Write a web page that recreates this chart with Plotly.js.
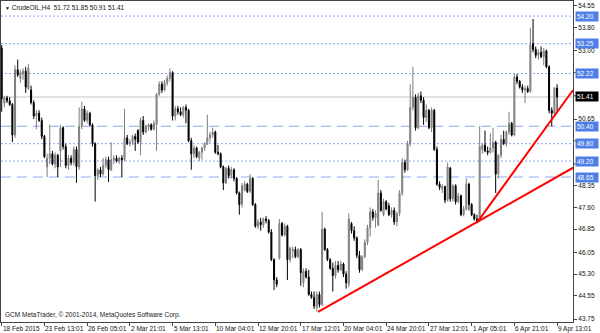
<!DOCTYPE html>
<html>
<head>
<meta charset="utf-8">
<script src="https://cdn.plot.ly/plotly-3.0.1.min.js"></script>
<style>
  html, body { margin: 0; padding: 0; background: #fff; }
  #chart { width: 600px; height: 333px; }
</style>
</head>
<body>
<div id="chart"></div>
<script>
// ---- data (CrudeOIL, H4 candles) ----
const symbolName = "CrudeOIL,H4";
const copyrightText = "GCM MetaTrader, © 2001-2014, MetaQuotes Software Corp.";

const openP = [
53.10,51.20,51.38,51.28,51.15,50.10,52.35,52.05,52.20,52.30,51.70,51.65,51.22,50.75,50.85,50.60,50.05,49.00,49.30,49.45,
49.10,49.40,49.55,50.35,49.70,49.05,49.30,49.15,49.60,49.00,50.40,51.00,50.60,50.85,50.45,49.80,48.70,48.90,48.75,49.05,
49.25,48.90,49.25,49.30,49.20,49.30,49.25,50.00,49.80,49.85,50.05,50.25,49.85,50.60,50.20,50.40,50.45,50.30,50.45,51.50,
51.85,51.65,51.90,52.05,52.25,50.75,51.00,50.90,50.80,51.05,50.95,49.90,49.45,49.65,49.30,49.50,49.65,49.80,50.00,50.10,
50.20,49.50,49.45,49.00,48.45,48.95,48.70,48.90,48.60,48.10,47.70,48.20,48.40,48.15,48.60,47.70,46.95,47.10,47.00,47.20,
47.15,46.75,45.80,45.10,45.85,47.05,46.65,46.95,45.80,46.10,46.15,45.90,46.15,45.00,45.40,45.20,44.60,44.50,44.15,44.60,
44.25,46.85,46.15,45.80,45.50,45.25,45.60,45.45,45.65,45.30,44.95,47.05,46.80,46.55,45.95,45.45,45.90,46.40,46.90,47.45,
47.25,47.00,48.10,47.35,47.80,47.65,47.35,47.50,47.10,47.40,48.10,49.15,48.90,49.80,51.05,51.40,50.35,51.45,51.30,50.70,
50.95,50.35,50.95,49.60,48.40,48.25,48.32,47.85,48.95,47.90,48.35,47.80,48.00,47.35,47.55,48.40,47.70,47.35,47.20,47.15,
49.60,49.75,49.55,49.50,49.65,49.85,48.75,49.40,49.95,49.80,50.20,50.50,50.10,52.10,51.95,51.75,51.65,51.70,51.60,53.25,
53.05,52.85,52.95,52.80,53.00,52.45,50.95,50.85,51.72];
const highP = [
53.20,51.45,51.45,51.40,51.20,52.50,52.70,52.35,52.40,52.45,52.55,51.80,51.30,50.95,50.95,50.70,50.10,49.45,50.45,49.55,
49.50,49.45,50.45,50.40,49.80,49.40,49.40,49.70,49.70,51.05,51.25,51.10,50.95,50.90,50.50,49.85,48.95,49.00,49.30,49.35,
49.35,49.85,49.40,49.40,49.35,49.40,51.00,50.10,49.95,50.10,50.15,50.30,50.70,50.75,50.45,50.50,50.50,50.60,51.55,51.95,
51.95,52.00,52.15,52.40,52.30,51.10,51.10,51.05,51.10,51.15,51.00,50.00,49.75,49.70,49.55,49.70,49.85,50.80,50.20,50.35,
50.25,49.75,49.50,49.05,49.00,49.05,49.00,48.95,48.65,48.15,48.45,48.50,48.45,48.75,48.65,47.75,47.20,47.25,47.25,47.30,
47.20,46.85,45.85,45.20,47.20,47.10,47.05,47.00,46.25,46.25,46.25,46.20,46.20,45.50,45.50,45.45,44.70,44.70,44.70,44.70,
47.45,46.90,46.20,45.85,45.70,45.75,45.75,45.75,45.70,45.40,47.40,47.10,46.95,46.60,46.10,45.95,46.50,47.00,47.60,47.55,
47.50,48.55,48.20,47.90,47.85,47.75,47.60,47.60,47.45,48.20,49.30,49.25,49.90,51.85,52.45,51.50,51.55,51.60,51.40,51.15,
51.00,51.05,51.00,49.70,48.50,48.40,48.35,49.15,49.00,48.40,48.40,48.10,48.05,47.65,48.60,48.45,47.75,47.40,47.35,50.40,
49.80,50.25,49.70,50.15,50.35,49.90,49.45,50.10,50.25,50.25,50.90,50.55,52.20,52.20,52.00,51.85,51.80,51.80,53.80,54.10,
53.15,53.05,53.15,53.10,53.05,52.50,51.05,51.75,51.85];
const lowP = [
50.90,51.05,51.20,51.10,49.85,50.00,52.10,51.90,52.00,51.55,51.65,51.15,50.65,50.30,50.55,49.95,49.30,48.65,49.10,49.05,
48.95,48.65,49.00,49.60,48.95,48.90,49.05,49.05,48.45,48.90,50.30,50.55,50.50,50.40,49.70,47.80,48.55,48.65,48.70,48.95,
48.48,48.85,49.10,49.15,49.10,48.65,49.20,49.75,49.70,49.75,49.55,49.80,49.40,50.10,50.15,50.25,50.25,50.25,49.55,51.45,
51.55,51.60,51.80,51.95,50.60,50.60,50.80,50.75,50.70,50.50,49.85,48.90,49.30,49.30,49.20,49.25,49.55,49.75,49.85,50.00,
49.45,49.40,48.95,48.20,48.40,48.60,48.60,48.50,48.05,47.35,47.60,48.15,48.10,48.10,47.65,46.90,46.85,46.80,46.90,47.05,
46.70,45.75,44.75,44.85,45.80,46.60,46.60,45.10,45.70,45.85,45.85,45.85,44.90,44.85,45.15,44.55,44.45,44.10,44.00,44.15,
44.20,46.10,45.75,45.45,44.70,45.15,45.35,45.40,45.20,44.80,44.85,46.70,46.45,45.85,45.35,45.40,45.85,46.30,46.60,47.15,
46.90,46.95,47.45,47.30,47.50,47.30,47.25,47.00,46.95,47.30,48.00,48.80,48.85,49.70,50.95,50.25,50.30,51.20,50.45,50.55,
50.30,50.20,49.55,48.35,48.20,48.10,47.75,47.80,47.80,47.80,47.70,47.75,47.30,47.30,47.50,47.50,47.30,47.15,47.06,47.10,
49.45,49.50,49.40,49.45,49.50,48.10,48.60,49.30,49.75,49.70,50.10,50.05,50.05,51.85,51.70,51.55,51.20,51.55,51.55,52.95,
52.75,52.70,52.75,52.50,52.40,50.85,50.40,50.80,50.91];
const closeP = [
51.35,51.38,51.28,51.15,50.10,52.35,52.17,52.25,52.30,51.75,52.40,51.22,50.75,50.85,50.60,50.05,49.35,49.30,49.45,49.10,
49.40,49.00,50.35,49.70,49.05,49.30,49.15,49.60,49.00,50.40,51.00,50.60,50.85,50.45,49.80,48.70,48.90,48.75,49.05,49.25,
48.90,49.25,49.30,49.20,49.30,49.25,50.00,49.80,49.85,50.05,49.95,49.85,50.60,50.20,50.40,50.45,50.30,50.50,51.50,51.85,
51.65,51.90,52.05,52.25,50.75,51.00,50.90,50.80,51.05,50.95,49.90,49.45,49.65,49.35,49.50,49.65,49.80,50.00,50.10,50.20,
49.50,49.45,49.00,48.45,48.95,48.70,48.90,48.60,48.10,47.70,48.35,48.40,48.15,48.60,47.70,46.95,47.10,47.00,47.20,47.15,
46.75,45.80,45.10,44.95,47.05,46.65,46.95,45.80,46.20,46.15,45.90,46.15,45.35,45.40,45.20,44.60,44.50,44.20,44.60,44.25,
46.85,46.15,45.80,45.50,45.25,45.60,45.45,45.65,45.30,45.00,47.20,46.80,46.55,45.95,45.45,45.90,46.40,46.90,47.45,47.25,
47.40,48.10,47.50,47.80,47.55,47.35,47.50,47.10,47.40,48.10,49.15,48.90,49.80,51.05,51.40,50.35,51.45,51.30,50.70,50.95,
50.35,50.95,49.60,48.40,48.30,48.32,47.85,49.00,47.90,48.35,47.80,48.00,47.35,47.55,48.40,47.70,47.35,47.20,47.15,49.70,
49.75,49.55,49.50,49.65,49.85,48.75,49.40,49.95,49.80,50.20,50.50,50.10,52.10,51.95,51.75,51.65,51.70,51.60,53.20,53.05,
52.85,52.95,52.80,53.00,52.45,50.95,50.85,51.72,51.41];

// time-axis labels (every 16th H4 bar)
const timeLabels = ["18 Feb 2015","23 Feb 13:01","26 Feb 05:01","2 Mar 21:01","5 Mar 13:01","10 Mar 04:01",
  "12 Mar 20:01","17 Mar 12:01","20 Mar 04:01","24 Mar 20:01","27 Mar 12:01","1 Apr 05:01","6 Apr 21:01","9 Apr 13:01"];
const timeLabelBars = [0,16,32,48,64,80,96,112,128,144,160,176,192,208];

// price scale ticks (labels) and the tick marks hidden under level boxes
const priceTicks = [54.55,53.80,53.00,50.65,48.35,47.60,46.85,46.05,45.30,44.55,43.75];
const hiddenPriceTicks = [52.25,51.45,49.90,49.10];

// horizontal levels
const dottedLevels = [54.20,53.25,52.22,49.80,49.20];
const dashedLevels = [50.40,48.65];
const currentPrice = 51.41;

// trend lines (bar index, price)
const supportLineBars = [118.5, 214.0];
const supportLinePrice = [44.00, 48.97];
const steepLineBars = [178.0, 214.0];
const steepLinePrice = [47.08, 51.65];

// ---- build chart ----
const barIdx = closeP.map((_, i) => i);
const FONT = "Liberation Sans, Arial, sans-serif";
const dotColor = "#88a5f3";
const dashColor = "#8ea9f0";
const boxColor = "#4f7ee6";

const traces = [
  {
    type: "candlestick",
    x: barIdx, open: openP, high: highP, low: lowP, close: closeP,
    increasing: { line: { color: "#7c7c7c", width: 1 }, fillcolor: "#a9a9a9" },
    decreasing: { line: { color: "#000000", width: 1 }, fillcolor: "#000000" },
    whiskerwidth: 0,
    hoverinfo: "skip",
    showlegend: false
  },
  {
    type: "scatter", mode: "lines",
    x: supportLineBars, y: supportLinePrice,
    line: { color: "#ff0000", width: 2 }, hoverinfo: "skip", showlegend: false
  },
  {
    type: "scatter", mode: "lines",
    x: steepLineBars, y: steepLinePrice,
    line: { color: "#ff0000", width: 2 }, hoverinfo: "skip", showlegend: false
  }
];

const shapes = [];
dottedLevels.forEach(v => shapes.push({
  type: "line", xref: "paper", x0: 0, x1: 1, yref: "y", y0: v, y1: v,
  line: { color: dotColor, width: 1, dash: "2px,2px" }, layer: "below"
}));
dashedLevels.forEach(v => shapes.push({
  type: "line", xref: "paper", x0: 0, x1: 1, yref: "y", y0: v, y1: v,
  line: { color: dashColor, width: 1.2, dash: "10px,6px" }, layer: "below"
}));
shapes.push({
  type: "line", xref: "paper", x0: 0, x1: 1, yref: "y", y0: currentPrice, y1: currentPrice,
  line: { color: "#c6c6c6", width: 1 }, layer: "below"
});
// tick marks under the level boxes (MetaTrader still draws them)
hiddenPriceTicks.forEach(v => shapes.push({
  type: "line", xref: "paper", x0: 1, x1: 1.005, yref: "y", y0: v, y1: v,
  line: { color: "#444", width: 1 }
}));

const annotations = [];
// header
const last = closeP.length - 1;
annotations.push({
  xref: "paper", yref: "paper", x: 0, y: 1, xanchor: "left", yanchor: "top",
  xshift: 2, yshift: -1, showarrow: false,
  text: '<span style="font-size:5px">▼</span> ' + symbolName + "  " +
        [openP[last], highP[last], lowP[last], closeP[last]].map(v => v.toFixed(2)).join(" "),
  font: { family: FONT, size: 6.5, color: "#111" }
});
// copyright
annotations.push({
  xref: "paper", yref: "paper", x: 0, y: 0, xanchor: "left", yanchor: "bottom",
  xshift: 2, yshift: 1, showarrow: false, text: copyrightText,
  font: { family: FONT, size: 6.5, color: "#222" }
});
// time labels (left-aligned at their tick)
timeLabels.forEach((t, k) => annotations.push({
  xref: "x", yref: "paper", x: timeLabelBars[k], y: 0, xanchor: "left", yanchor: "top",
  xshift: -1, yshift: -1, showarrow: false, text: t,
  font: { family: FONT, size: 6.5, color: "#111" }
}));
// level boxes on the price scale
dottedLevels.concat(dashedLevels).forEach(v => annotations.push({
  xref: "paper", yref: "y", x: 1, y: v, xanchor: "left", yanchor: "middle",
  xshift: 2, showarrow: false, text: v.toFixed(2), bgcolor: boxColor, borderpad: 1,
  width: 20, align: "left",
  font: { family: FONT, size: 6.5, color: "#ffffff" }
}));
annotations.push({
  xref: "paper", yref: "y", x: 1, y: currentPrice, xanchor: "left", yanchor: "middle",
  xshift: 2, showarrow: false, text: currentPrice.toFixed(2), bgcolor: "#000000", borderpad: 1,
  width: 20, align: "left",
  font: { family: FONT, size: 6.5, color: "#ffffff" }
});

const layout = {
  width: 600, height: 333,
  margin: { l: 1, r: 27, t: 1, b: 11, pad: 0 },
  paper_bgcolor: "#ffffff", plot_bgcolor: "#ffffff",
  showlegend: false,
  boxgap: 0.45,
  font: { family: FONT, size: 6.5, color: "#111" },
  xaxis: {
    type: "linear", range: [-0.26, 213.96],
    showgrid: false, zeroline: false,
    showline: true, mirror: true, linecolor: "#444", linewidth: 1,
    ticks: "outside", ticklen: 3, tickcolor: "#444", tickwidth: 1,
    tickmode: "array", tickvals: timeLabelBars, showticklabels: false,
    rangeslider: { visible: false }, fixedrange: true
  },
  yaxis: {
    side: "right", range: [43.65, 54.72],
    showgrid: false, zeroline: false,
    showline: true, mirror: true, linecolor: "#444", linewidth: 1,
    ticks: "outside", ticklen: 3, tickcolor: "#444", tickwidth: 1,
    tickmode: "array", tickvals: priceTicks, ticktext: priceTicks.map(v => v.toFixed(2)),
    tickfont: { family: FONT, size: 6.5, color: "#111" },
    fixedrange: true
  },
  shapes: shapes,
  annotations: annotations
};

Plotly.newPlot("chart", traces, layout, { staticPlot: true, displayModeBar: false });
</script>
</body>
</html>
